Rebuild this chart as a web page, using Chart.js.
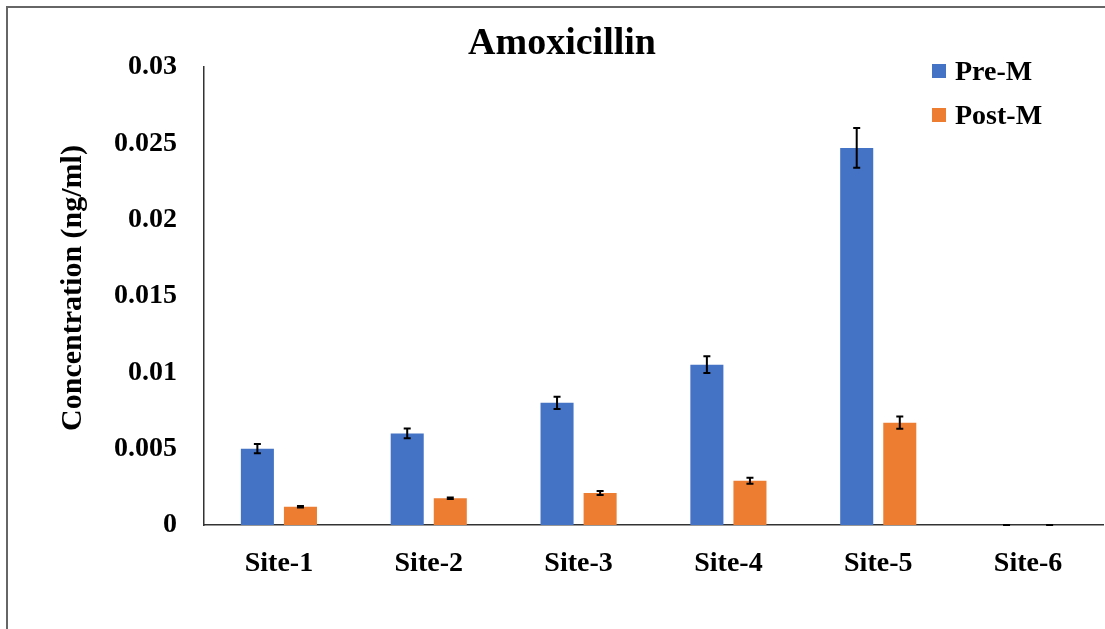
<!DOCTYPE html>
<html>
<head>
<meta charset="utf-8">
<title>Amoxicillin</title>
<script src="https://cdn.jsdelivr.net/npm/chart.js@4/dist/chart.umd.min.js"></script>
<style>
    html, body { margin: 0; padding: 0; background: #fff; }
    #wrap { position: relative; width: 1105px; height: 629px; overflow: hidden; }
    #frame { position: absolute; left: 6px; top: 6px; width: 1200px; height: 700px;
             border-left: 2px solid #666; border-top: 2px solid #666; pointer-events: none; }
</style>
</head>
<body>
<div id="wrap">
    <canvas id="chart"></canvas>
    <div id="frame"></div>
</div>
<script>
/* Amoxicillin concentration, pre vs post monsoon */
var sites = ["Site-1", "Site-2", "Site-3", "Site-4", "Site-5", "Site-6"];
var preM = [0.0050, 0.0060, 0.0080, 0.0105, 0.0247, 0];
var postM = [0.0012, 0.00175, 0.0021, 0.0029, 0.0067, 0];
var preErr = [0.0003, 0.00032, 0.0004, 0.00055, 0.0013, 0];
var postErr = [0.00005, 0.00005, 0.00013, 0.0002, 0.0004, 0];
var yTicks = [0, 0.005, 0.01, 0.015, 0.02, 0.025, 0.03];

(function () {
    "use strict";

    var FONT = "'Liberation Serif', 'Times New Roman', serif";
    var BLUE = "#4472C4";
    var ORANGE = "#ED7D31";

    /* error bars, title, y title and legend drawn on top */
    var extras = {
        id: "extras",
        afterDatasetsDraw: function (chart) {
            var ctx = chart.ctx;
            var y = chart.scales.y;
            var errs = [preErr, postErr];
            ctx.save();
            ctx.strokeStyle = "#000";
            ctx.lineWidth = 2;
            chart.data.datasets.forEach(function (ds, i) {
                var meta = chart.getDatasetMeta(i);
                meta.data.forEach(function (bar, j) {
                    var v = ds.data[j], e = errs[i][j];
                    var top = y.getPixelForValue(v + e);
                    var bot = y.getPixelForValue(Math.max(0, v - e));
                    ctx.beginPath();
                    ctx.moveTo(bar.x, top); ctx.lineTo(bar.x, bot);
                    ctx.moveTo(bar.x - 3.5, top); ctx.lineTo(bar.x + 3.5, top);
                    ctx.moveTo(bar.x - 3.5, bot); ctx.lineTo(bar.x + 3.5, bot);
                    ctx.stroke();
                });
            });
            ctx.restore();
        },
        afterDraw: function (chart) {
            var ctx = chart.ctx;
            ctx.save();
            ctx.fillStyle = "#000";

            ctx.font = "bold 38px " + FONT;
            ctx.textAlign = "center";
            ctx.textBaseline = "alphabetic";
            ctx.fillText("Amoxicillin", 562, 54);

            ctx.save();
            ctx.translate(73, 288);
            ctx.rotate(-Math.PI / 2);
            ctx.font = "bold 30px " + FONT;
            ctx.textBaseline = "middle";
            ctx.fillText("Concentration (ng/ml)", 0, 0);
            ctx.restore();

            ctx.font = "bold 28px " + FONT;
            ctx.textAlign = "left";
            ctx.textBaseline = "middle";
            [["Pre-M", BLUE, 71], ["Post-M", ORANGE, 115]].forEach(function (it) {
                ctx.fillStyle = it[1];
                ctx.fillRect(932, it[2] - 7, 14, 14);
                ctx.fillStyle = "#000";
                ctx.fillText(it[0], 955, it[2] + 2);
            });
            ctx.restore();
        }
    };

    new Chart(document.getElementById("chart"), {
        type: "bar",
        data: {
            labels: sites,
            datasets: [
                { label: "Pre-M", data: preM, backgroundColor: BLUE },
                { label: "Post-M", data: postM, backgroundColor: ORANGE }
            ]
        },
        options: {
            responsive: true,
            maintainAspectRatio: false,
            animation: false,
            layout: { padding: { top: 67, right: 2, bottom: 0, left: 0 } },
            datasets: { bar: { barPercentage: 0.767, categoryPercentage: 0.575 } },
            plugins: {
                legend: { display: false },
                title: { display: false },
                tooltip: { enabled: false }
            },
            scales: {
                x: {
                    grid: { display: false, drawTicks: false },
                    border: { display: true, color: "#333", width: 1.5 },
                    ticks: { color: "#000", padding: 22, font: { family: FONT, size: 28, weight: "bold" } },
                    afterFit: function (s) { s.height = 104; }
                },
                y: {
                    min: 0,
                    max: 0.03,
                    afterBuildTicks: function (s) {
                        s.ticks = yTicks.map(function (v) { return { value: v }; });
                    },
                    grid: { display: false, drawTicks: false },
                    border: { display: true, color: "#333", width: 1.5 },
                    ticks: {
                        color: "#000",
                        padding: 27,
                        font: { family: FONT, size: 28, weight: "bold" },
                        callback: function (v) { return String(+(+v).toFixed(3)); }
                    },
                    afterFit: function (s) { s.width = 204; }
                }
            }
        },
        plugins: [extras]
    });
})();
</script>
</body>
</html>
